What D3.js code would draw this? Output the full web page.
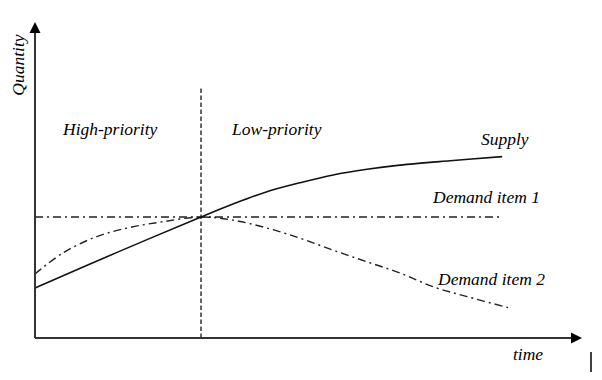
<!DOCTYPE html>
<html>
<head>
<meta charset="utf-8">
<script src="https://cdn.jsdelivr.net/npm/d3@7"></script>
<style>
  html, body { margin: 0; padding: 0; background: #fff; }
  svg { display: block; }
</style>
</head>
<body>
<svg id="chart" width="602" height="380"></svg>
<script>
// ---- data (time units 0..100, quantity units 0..100) ----
const supplyT = [0, 15, 30.35, 36.2, 42.4, 48.4, 54.5, 60.7, 66.7, 75.9, 85.4];
const supplyQ = [15.8, 27.1, 38.3, 42.4, 46.3, 49.1, 51.6, 53.4, 54.7, 56.1, 57.4];

const demand1T = [0, 85.4];
const demand1Q = [38.3, 38.3];

const demand2T = [0, 5.1, 11.3, 17.4, 23.4, 30.35, 36.2, 42.4, 48.4, 54.5, 60.7, 66.7, 72.8, 79.0, 86.5];
const demand2Q = [20.3, 26.9, 32.1, 35.0, 36.8, 38.3, 37.3, 34.8, 31.6, 27.8, 24.1, 20.6, 16.2, 13.1, 9.6];

const boundaryT = 30.35;
const boundaryTop = 79.1;

const regionLabels = ["High-priority", "Low-priority"];
const seriesLabels = ["Supply", "Demand item 1", "Demand item 2"];
const axisLabels = { x: "time", y: "Quantity" };

// ---- scales ----
const svg = d3.select("#chart");
const x = d3.scaleLinear().domain([0, 100]).range([35, 582]);
const y = d3.scaleLinear().domain([0, 100]).range([338, 22]);

const zip = (a, b) => a.map((v, i) => [v, b[i]]);
const line = d3.line().x(d => x(d[0])).y(d => y(d[1])).curve(d3.curveCatmullRom.alpha(0.5));

// ---- boundary dashed line ----
svg.append("line")
  .attr("x1", x(boundaryT)).attr("x2", x(boundaryT))
  .attr("y1", y(0)).attr("y2", y(boundaryTop))
  .attr("stroke", "#555").attr("stroke-width", 1.8)
  .attr("stroke-dasharray", "4.5,2.5");

// ---- series ----
svg.append("path").datum(zip(demand1T, demand1Q))
  .attr("d", line).attr("fill", "none")
  .attr("stroke", "#222").attr("stroke-width", 1.4)
  .attr("stroke-dasharray", "8,4,2,4");

svg.append("path").datum(zip(demand2T, demand2Q))
  .attr("d", line).attr("fill", "none")
  .attr("stroke", "#222").attr("stroke-width", 1.4)
  .attr("stroke-dasharray", "8,4,2,4");

svg.append("path").datum(zip(supplyT, supplyQ))
  .attr("d", line).attr("fill", "none")
  .attr("stroke", "#111").attr("stroke-width", 1.6);

// ---- axes with arrows ----
svg.append("line")
  .attr("x1", x(0)).attr("y1", y(0)).attr("x2", x(100) - 8).attr("y2", y(0))
  .attr("stroke", "#333").attr("stroke-width", 2);
svg.append("line")
  .attr("x1", x(0)).attr("y1", y(0)).attr("x2", x(0)).attr("y2", y(100) + 8)
  .attr("stroke", "#333").attr("stroke-width", 2);

svg.append("path")
  .attr("d", `M${x(100)},${y(0)} L${x(100) - 11},${y(0) - 5.5} L${x(100) - 11},${y(0) + 5.5} Z`)
  .attr("fill", "#000");
svg.append("path")
  .attr("d", `M${x(0)},${y(100)} L${x(0) - 5.5},${y(100) + 11} L${x(0) + 5.5},${y(100) + 11} Z`)
  .attr("fill", "#000");

// ---- texts ----
const FONT = "'Liberation Serif', 'Times New Roman', Tinos, 'DejaVu Serif', 'Noto Serif', serif";
function label(xp, yp, s, transform) {
  const t = svg.append("text")
    .attr("font-family", FONT)
    .attr("font-style", "italic")
    .attr("font-size", "17.5px")
    .attr("fill", "#000")
    .style("font-family", FONT)
    .style("font-style", "italic")
    .text(s);
  if (transform) t.attr("transform", transform).attr("text-anchor", "middle");
  else t.attr("x", xp).attr("y", yp);
  return t;
}
label(63, 135, regionLabels[0]);
label(232, 135, regionLabels[1]);
label(481, 145, seriesLabels[0]);
label(433, 203, seriesLabels[1]);
label(438, 285, seriesLabels[2]);
label(513, 360, axisLabels.x);
label(0, 0, axisLabels.y, "translate(24,65) rotate(-90)");

// small edge mark (bottom right)
svg.append("line")
  .attr("x1", 591).attr("x2", 591).attr("y1", 352).attr("y2", 372)
  .attr("stroke", "#000").attr("stroke-width", 1.5);
</script>
</body>
</html>
